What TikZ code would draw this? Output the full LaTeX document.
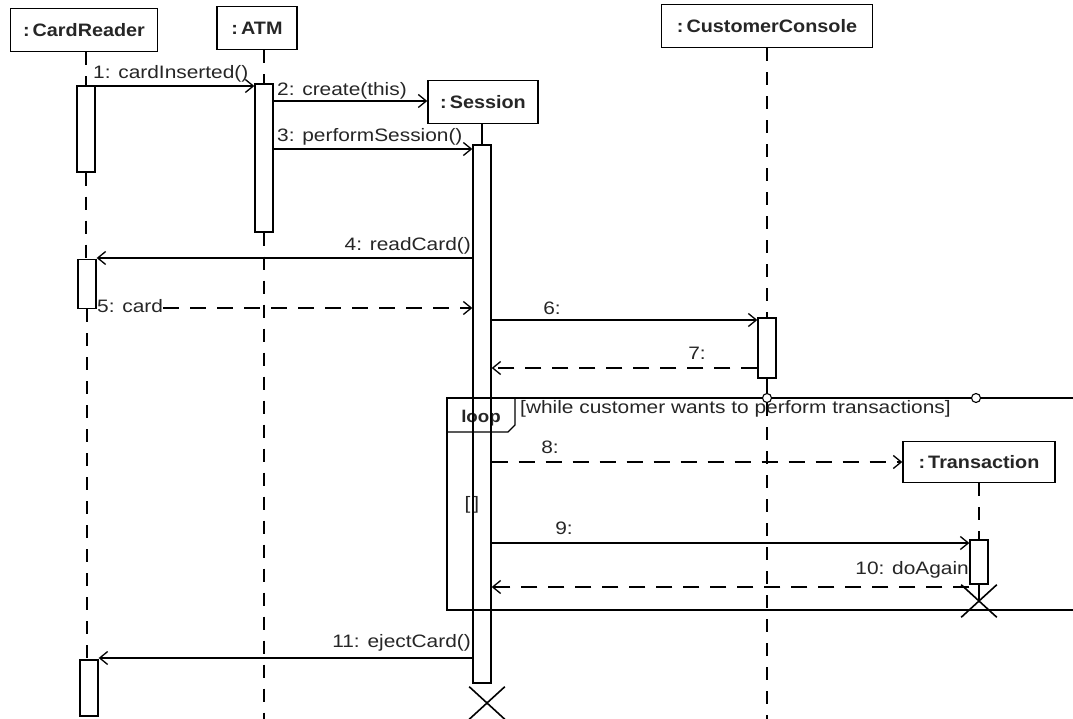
\documentclass[tikz,border=0pt]{standalone}
\usepackage{fontspec}
\setmainfont{Liberation Sans}[FakeStretch=1.1]
\newfontfamily\lblfont{Liberation Sans}[FakeStretch=1.16]
\usetikzlibrary{arrows.meta,shapes.misc}
\begin{document}
\begin{tikzpicture}[x=1pt,y=-1pt,
  every node/.style={font=\lblfont\fontsize{18}{20}\selectfont, inner sep=0pt, text=black!85},
  obj/.style={draw, line width=1.4pt, font=\fontsize{18}{20}\selectfont\bfseries, minimum height=43pt},
  bar/.style={draw, line width=1.3pt, minimum width=18pt},
  life/.style={line width=1.3pt, dash pattern=on 13pt off 11pt},
  solidlife/.style={line width=1.3pt},
  msg/.style={line width=1.3pt, -{Straight Barb[length=8pt,width=13pt,line width=1.3pt]}},
  ret/.style={msg, dash pattern=on 16pt off 11pt},
  xmark/.style={cross out, draw, line width=1.6pt, minimum width=34pt, minimum height=31pt},
  gate/.style={circle, draw, fill=white, line width=1.1pt, minimum size=9pt},
  frame/.style={line width=1.3pt},
  lbl/.style={anchor=west},
  rlbl/.style={anchor=east}
]
\fill[white] (0,0) rectangle (1073,719);
\useasboundingbox (0,0) rectangle (1073,719);

% objects
\node[obj, minimum width=147pt] (cr) at (84,30) {:\,CardReader};
\node[obj, minimum width=80pt] (atm) at (257,28) {:\,ATM};
\node[obj, minimum width=110pt] (ses) at (483,102) {:\,Session};
\node[obj, minimum width=211pt] (cc) at (767,26) {:\,CustomerConsole};
\node[obj, minimum width=152pt, minimum height=41pt] (tr) at (979,462) {:\,Transaction};

% loop frame
\coordinate (fTL) at (447,398);
\coordinate (fTR) at (1073,398);
\coordinate (fBL) at (447,610);
\coordinate (fBR) at (1073,610);
\coordinate (tab1) at (447,432);
\coordinate (tab2) at (508,432);
\coordinate (tab3) at (515,425);
\coordinate (tab4) at (515,398);
\draw[frame] (fTR) -- (fTL) -- (fBL) -- (fBR);
\draw[frame] (tab1) -- (tab2) -- (tab3) -- (tab4);
\node[font=\fontsize{17}{20}\selectfont\bfseries] (looplbl) at (481,418) {loop};
\node[lbl] (guard) at (520,409) {[while customer wants to perform transactions]};
\node (guard2) at (472,505) {[\,]};

% activation bars
\node[bar, minimum height=86pt] (crA) at (86,129) {};
\node[bar, minimum height=49pt] (crB) at (87,284) {};
\node[bar, minimum height=56pt] (crC) at (89,688) {};
\node[bar, minimum height=148pt] (atmA) at (264,158) {};
\node[bar, minimum height=538pt] (sesA) at (482,414) {};
\node[bar, minimum height=60pt] (ccA) at (767,348) {};
\node[bar, minimum height=44pt] (trA) at (979,562) {};

% gates
\node[gate] (g1) at (767,398) {};
\node[gate] (g2) at (976,398) {};

% destruction marks
\node[xmark] (sesX) at (487,703) {};
\node[xmark] (trX) at (979,601) {};

% lifelines
\coordinate (bot) at (0,719);
\draw[life] (crA.north |- cr.south) -- (crA.north);
\draw[life] (crA.south) -- (crA.south |- crB.north);
\draw[life] (crB.south) -- (crB.south |- crC.north);
\draw[life] (atmA.north |- atm.south) -- (atmA.north);
\draw[life] (atmA.south) -- (atmA.south |- bot);
\draw[solidlife] (sesA.north |- ses.south) -- (sesA.north);
\draw[life] (ccA.north |- cc.south) -- (ccA.north);
\draw[solidlife] (ccA.south) -- (g1);
\draw[life] (g1) -- (g1 |- bot);
\draw[life] (trA.north |- tr.south) -- (trA.north);
\draw[solidlife] (trA.south) -- (trX.center);

% message levels
\coordinate (y1) at (0,86);
\coordinate (y2) at (0,101);
\coordinate (y3) at (0,149);
\coordinate (y4) at (0,258);
\coordinate (y5) at (0,308);
\coordinate (y6) at (0,320);
\coordinate (y7) at (0,368);
\coordinate (y8) at (0,462);
\coordinate (y9) at (0,543);
\coordinate (y10) at (0,587);
\coordinate (y11) at (0,658);

% messages
\draw[msg] (crA.east |- y1) -- (atmA.west |- y1);
\node[lbl] (l1) at (93,74) {1: cardInserted()};

\draw[msg] (atmA.east |- y2) -- (ses.west |- y2);
\node[lbl] (l2) at (277,91) {2: create(this)};

\draw[msg] (atmA.east |- y3) -- (sesA.west |- y3);
\node[lbl] (l3) at (277,137) {3: performSession()};

\draw[msg] (sesA.west |- y4) -- (crB.east |- y4);
\node[rlbl] (l4) at (471,246) {4: readCard()};

\node[lbl] (l5) at (97,306) {5: card};
\draw[ret] (l5.east |- y5) -- (sesA.west |- y5);

\draw[msg] (sesA.east |- y6) -- (ccA.west |- y6);
\node (l6) at (552,308) {6:};

\draw[ret] (ccA.west |- y7) -- (sesA.east |- y7);
\node (l7) at (697,353) {7:};

\draw[ret] (sesA.east |- y8) -- (tr.west |- y8);
\node (l8) at (550,447) {8:};

\draw[msg] (sesA.east |- y9) -- (trA.west |- y9);
\node (l9) at (564,528) {9:};

\draw[ret] (trA.west |- y10) -- (sesA.east |- y10);
\node[rlbl] (l10) at (969,570) {10: doAgain};

\draw[msg] (sesA.west |- y11) -- (crC.east |- y11);
\node[rlbl] (l11) at (471,643) {11: ejectCard()};
\end{tikzpicture}
\end{document}
